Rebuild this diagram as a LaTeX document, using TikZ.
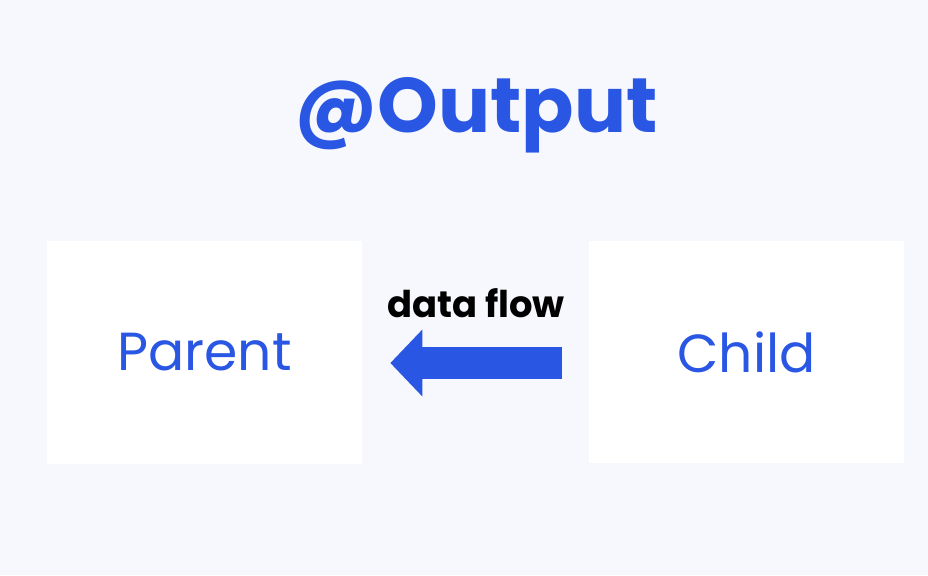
\documentclass[tikz,border=0pt]{standalone}
\usepackage{fontspec}
\setmainfont{Poppins}
\usepackage{xcolor}
\usepackage{tikz}
\usetikzlibrary{arrows.meta,positioning}

\definecolor{pageBg}{HTML}{F7F8FD}
\definecolor{ngBlue}{HTML}{2A56E4}

\tikzset{
  unitbox/.style={fill=white, minimum width=6.3cm, minimum height=4.46cm,
    inner sep=0pt, text=ngBlue, font=\fontsize{30.5}{36}\selectfont},
  flow/.style={ngBlue, line width=6.4mm,
    -{Triangle[length=6.4mm 0 0, width=13mm 0 0]}},
}

\begin{document}
\begin{tikzpicture}[x=0.02cm, y=-0.02cm]
    % background
    \fill[pageBg] (0,0) rectangle (928,575);
    \useasboundingbox (0,0) rectangle (928,575);

    % title
    \node[text=ngBlue, font=\fontsize{44}{52}\selectfont\bfseries] (title) at (476,115) {@Output};

    % the two components
    \node[unitbox] (parent) at (204.5,352.5) {Parent};
    \node[unitbox] (child) at (746.5,352) {Child};

    % arrow from child to parent
    \draw[flow, shorten <=27*0.02cm, shorten >=28*0.02cm]
        (child.west |- 0,363) -- (parent.east |- 0,363);
    \node[font=\fontsize{21}{25}\selectfont\bfseries] (label) at (476,303) {data flow};
\end{tikzpicture}
\end{document}
